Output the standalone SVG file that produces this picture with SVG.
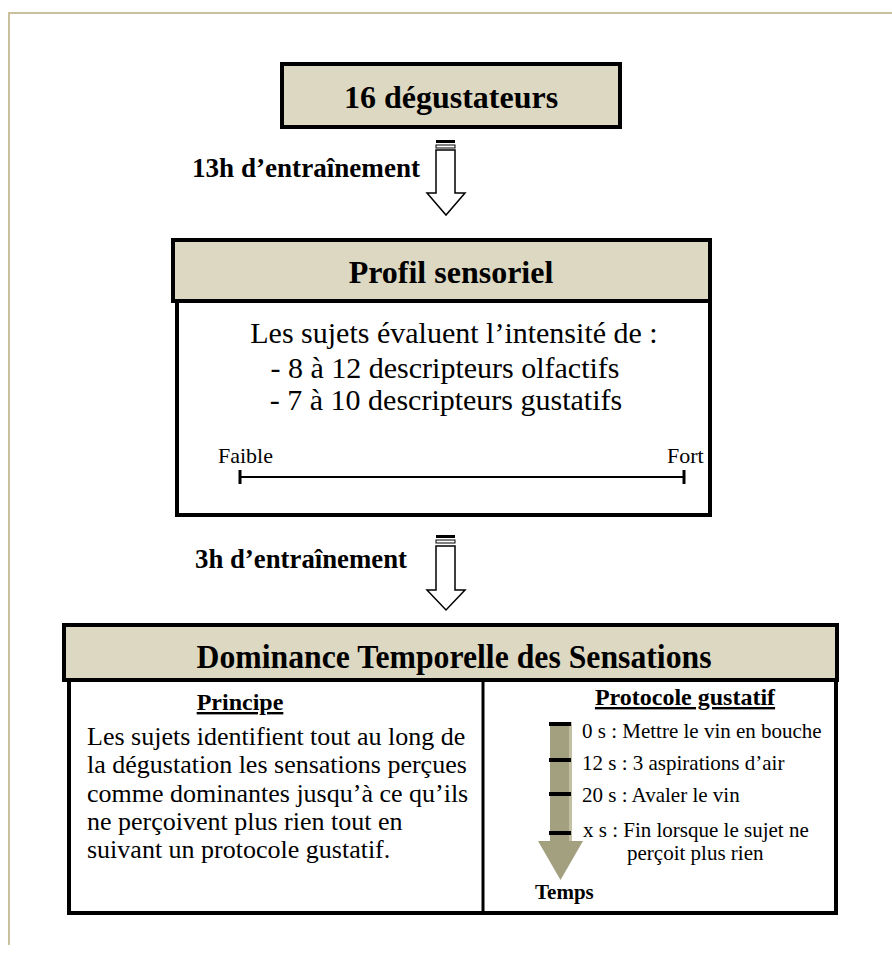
<svg xmlns="http://www.w3.org/2000/svg" width="892" height="953" viewBox="0 0 892 953">
<style>
.hdr{fill:#ddd8c2;stroke:#000;stroke-width:4}
.body{fill:#fff;stroke:#000;stroke-width:4}
.tb{font-family:"Liberation Serif","Times New Roman",serif;font-weight:bold;fill:#000}
.tr{font-family:"Liberation Serif","Times New Roman",serif;fill:#000}
.harrow{fill:#fff;stroke:#000;stroke-width:1.5}
.tick{fill:#000}
</style>
<rect x="0" y="0" width="892" height="953" fill="#fff"/>
<path d="M9,945 V13 H892" fill="none" stroke="#c9c19e" stroke-width="2"/>

<g id="node-degustateurs">
<rect class="hdr" x="282" y="64" width="338" height="63"/>
<text class="tb" x="451" y="108" font-size="32" text-anchor="middle">16 dégustateurs</text>
</g>

<g id="node-profil">
<rect class="body" x="177" y="301" width="533" height="214"/>
<rect class="hdr" x="173" y="240" width="537" height="61"/>
<text class="tb" x="451" y="283" font-size="32" text-anchor="middle">Profil sensoriel</text>
<text class="tr" x="454" y="343" font-size="30" text-anchor="middle">Les sujets évaluent l’intensité de :</text>
<text class="tr" x="445" y="378" font-size="30" text-anchor="middle">- 8 à 12 descripteurs olfactifs</text>
<text class="tr" x="446" y="410" font-size="30" text-anchor="middle">- 7 à 10 descripteurs gustatifs</text>
<text class="tr" x="218" y="463" font-size="22">Faible</text>
<text class="tr" x="667" y="463" font-size="22">Fort</text>
<line x1="240" y1="477" x2="684" y2="477" stroke="#000" stroke-width="2"/>
<line x1="240" y1="470" x2="240" y2="484" stroke="#000" stroke-width="3"/>
<line x1="684" y1="470" x2="684" y2="484" stroke="#000" stroke-width="3"/>
</g>

<g id="node-dts">
<rect class="body" x="69" y="680" width="767" height="233"/>
<line x1="483" y1="680" x2="483" y2="913" stroke="#000" stroke-width="3"/>
<rect class="hdr" x="64" y="625" width="773" height="55"/>
<text class="tb" x="454" y="668" font-size="33" text-anchor="middle" textLength="515" lengthAdjust="spacingAndGlyphs">Dominance Temporelle des Sensations</text>
<text class="tb" x="240" y="710" font-size="24" text-anchor="middle" text-decoration="underline">Principe</text>
<text class="tr" font-size="26">
<tspan x="87" y="745">Les sujets identifient tout au long de</tspan>
<tspan x="87" y="773">la dégustation les sensations perçues</tspan>
<tspan x="87" y="802">comme dominantes jusqu’à ce qu’ils</tspan>
<tspan x="87" y="830">ne perçoivent plus rien tout en</tspan>
<tspan x="87" y="858">suivant un protocole gustatif.</tspan>
</text>
<text class="tb" x="685" y="705" font-size="24" text-anchor="middle" text-decoration="underline">Protocole gustatif</text>
<rect x="550" y="722" width="22" height="121" fill="#a3a07f"/>
<rect x="569" y="722" width="3" height="121" fill="#c2bfa3"/>
<polygon points="538,841 583,841 560.5,880" fill="#a3a07f"/>
<rect class="tick" x="549" y="722" width="22" height="4"/>
<rect class="tick" x="549" y="758" width="22" height="4"/>
<rect class="tick" x="549" y="792" width="22" height="4"/>
<rect class="tick" x="549" y="831" width="22" height="4"/>
<text class="tr" font-size="21">
<tspan x="582" y="738">0 s : Mettre le vin en bouche</tspan>
<tspan x="582" y="770">12 s : 3 aspirations d’air</tspan>
<tspan x="582" y="802">20 s : Avaler le vin</tspan>
<tspan x="583" y="837">x s : Fin lorsque le sujet ne</tspan>
<tspan x="627" y="860">perçoit plus rien</tspan>
</text>
<text class="tb" x="535" y="899" font-size="21">Temps</text>
</g>

<g id="connectors">
<text class="tb" x="420" y="177" font-size="28" text-anchor="end" textLength="228" lengthAdjust="spacingAndGlyphs">13h d’entraînement</text>
<rect x="436" y="140" width="19" height="3" fill="#000"/>
<rect x="436" y="145" width="19" height="3" stroke="#000" stroke-width="1" fill="#fff"/>
<path class="harrow" d="M436,150 H455 V193 H465 L446,215 L427,193 H436 Z"/>
<text class="tb" x="407" y="568" font-size="28" text-anchor="end" textLength="212" lengthAdjust="spacingAndGlyphs">3h d’entraînement</text>
<rect x="436" y="535" width="19" height="3" fill="#000"/>
<rect x="436" y="540" width="19" height="3" stroke="#000" stroke-width="1" fill="#fff"/>
<path class="harrow" d="M436,546 H455 V590 H465 L446,610 L427,590 H436 Z"/>
</g>
</svg>
